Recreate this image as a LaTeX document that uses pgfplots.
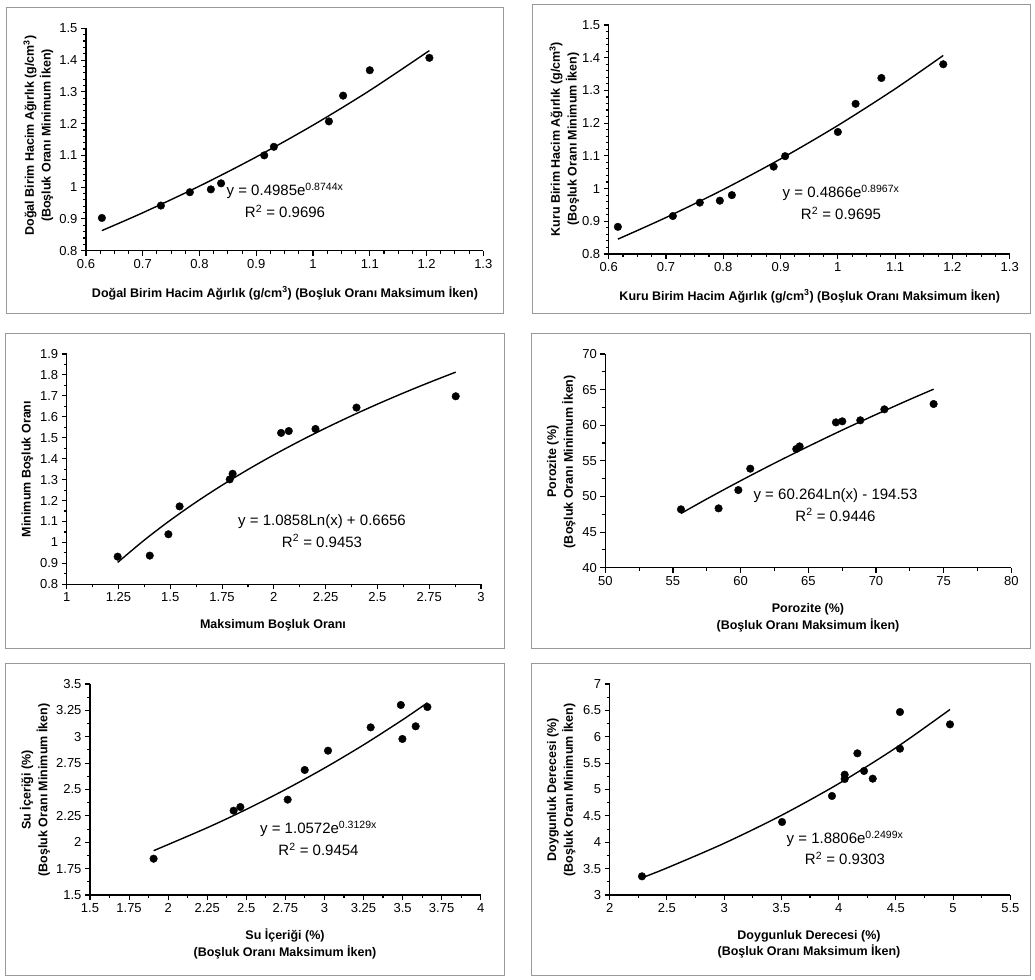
\documentclass[border=0pt]{standalone}
\usepackage{fontspec}
\setmainfont{Liberation Sans}
\usepackage{pgfplots}
\pgfplotsset{compat=1.18}

\pgfplotsset{
  exc/.style={
    scale only axis,
    anchor=south west,
    axis lines*=left,
    axis line style={black, line width=1.3pt, -},
    tick align=outside,
    major tick length=5pt,
    minor tick length=3pt,
    major tick style={black, line width=1.1pt},
    minor tick style={black, line width=1.1pt},
    scaled ticks=false,
    tick label style={font=\fontsize{13}{15}\selectfont, /pgf/number format/fixed, /pgf/number format/assume math mode=true},
    clip=false,
  },
  dots/.style={only marks, mark=*, mark size=3.8pt, black},
  trend/.style={no marks, black, line width=1.4pt, smooth},
}
\newcommand{\lab}{\fontsize{12.5}{16.7}\selectfont\bfseries}
\newcommand{\eq}{\fontsize{15}{21.5}\selectfont}

\begin{document}
\begin{tikzpicture}
\useasboundingbox (0pt,0pt) rectangle (1035pt,979pt);
\fill[white] (0pt,0pt) rectangle (1035pt,979pt);
% panel frames
\begin{scope}[draw=black!40, line width=0.9pt]
\draw (6pt,666pt) rectangle (503pt,972pt);
\draw (532pt,666pt) rectangle (1030pt,975pt);
\draw (5pt,331pt) rectangle (504pt,646pt);
\draw (531pt,331pt) rectangle (1030pt,646pt);
\draw (5pt,4pt) rectangle (504pt,316pt);
\draw (531pt,4pt) rectangle (1030pt,316pt);
\end{scope}

% ---------- Panel 1 ----------
\begin{axis}[exc, at={(86pt,728.3pt)}, width=397.3pt, height=222.4pt,
  xmin=0.6, xmax=1.3, ymin=0.8, ymax=1.5,
  xtick={0.6,0.7,0.8,0.9,1,1.1,1.2,1.3},
  ytick={0.8,0.9,1,1.1,1.2,1.3,1.4,1.5},
  minor x tick num=3, minor y tick num=4]
\addplot[trend] coordinates {(0.628,0.8633) (0.7,0.9194) (0.8,1.0034) (0.9,1.0951) (1.0,1.1951) (1.1,1.3043) (1.205,1.4298)};
\addplot[dots] coordinates {(0.628,0.903) (0.732,0.942) (0.783,0.984) (0.820,0.993) (0.838,1.012) (0.914,1.100) (0.931,1.127) (1.028,1.207) (1.053,1.288) (1.100,1.368) (1.205,1.407)};
\end{axis}
\node[align=center, font=\eq] at (285pt,778.5pt) {y = 0.4985e\textsuperscript{0.8744x}\\R\textsuperscript{2} = 0.9696};
\node[font=\lab] at (285pt,685.7pt) {Doğal Birim Hacim Ağırlık (g/cm\textsuperscript{3}) (Boşluk Oranı Maksimum İken)};
\node[font=\lab, align=center, rotate=90] at (38.3pt,843.5pt) {Doğal Birim Hacim Ağırlık (g/cm\textsuperscript{3})\\(Boşluk Oranı Minimum İken)};

% ---------- Panel 2 ----------
\begin{axis}[exc, at={(608.7pt,725pt)}, width=401pt, height=229pt,
  xmin=0.6, xmax=1.3, ymin=0.8, ymax=1.5,
  xtick={0.6,0.7,0.8,0.9,1,1.1,1.2,1.3},
  ytick={0.8,0.9,1,1.1,1.2,1.3,1.4,1.5},
  minor x tick num=3, minor y tick num=4]
\addplot[trend] coordinates {(0.616,0.8454) (0.7,0.9115) (0.8,0.9970) (0.9,1.0906) (1.0,1.1929) (1.1,1.3048) (1.184,1.4069)};
\addplot[dots] coordinates {(0.616,0.883) (0.712,0.916) (0.759,0.957) (0.794,0.963) (0.815,0.980) (0.888,1.067) (0.908,1.099) (1.000,1.173) (1.031,1.259) (1.076,1.338) (1.184,1.380)};
\end{axis}
\node[align=center, font=\eq] at (841pt,776.5pt) {y = 0.4866e\textsuperscript{0.8967x}\\R\textsuperscript{2} = 0.9695};
\node[font=\lab] at (809.7pt,683pt) {Kuru Birim Hacim Ağırlık (g/cm\textsuperscript{3}) (Boşluk Oranı Maksimum İken)};
\node[font=\lab, align=center, rotate=90] at (564.3pt,840pt) {Kuru Birim Hacim Ağırlık (g/cm\textsuperscript{3})\\(Boşluk Oranı Minimum İken)};

% ---------- Panel 3 ----------
\begin{axis}[exc, at={(66.7pt,394.7pt)}, width=414.3pt, height=230.3pt,
  xmin=1, xmax=3, ymin=0.8, ymax=1.9,
  xtick={1,1.25,1.5,1.75,2,2.25,2.5,2.75,3},
  ytick={0.8,0.9,1,1.1,1.2,1.3,1.4,1.5,1.6,1.7,1.8,1.9},
  minor x tick num=1, minor y tick num=1]
\addplot[trend] coordinates {(1.246,0.9044) (1.375,1.0114) (1.5,1.1059) (1.625,1.1928) (1.75,1.2732) (1.875,1.3481) (2.0,1.4182) (2.125,1.4840) (2.25,1.5461) (2.375,1.6048) (2.5,1.6605) (2.625,1.7135) (2.75,1.7640) (2.878,1.8134)};
\addplot[dots] coordinates {(1.246,0.932) (1.401,0.937) (1.491,1.039) (1.545,1.172) (1.787,1.301) (1.801,1.328) (2.035,1.523) (2.072,1.532) (2.201,1.542) (2.399,1.644) (2.878,1.698)};
\end{axis}
\node[align=center, font=\eq] at (322pt,448pt) {y = 1.0858Ln(x) + 0.6656\\R\textsuperscript{2} = 0.9453};
\node[font=\lab] at (273pt,354pt) {Maksimum Boşluk Oranı};
\node[font=\lab, rotate=90] at (27.3pt,510pt) {Minimum Boşluk Oranı};

% ---------- Panel 4 ----------
\begin{axis}[exc, at={(605.3pt,411.3pt)}, width=406pt, height=213.7pt,
  xmin=50, xmax=80, ymin=40, ymax=70,
  xtick={50,55,60,65,70,75,80},
  ytick={40,45,50,55,60,65,70},
  minor x tick num=1, minor y tick num=1]
\addplot[trend] coordinates {(55.59,47.61) (57.5,49.65) (60,52.21) (62.5,54.67) (65,57.03) (67.5,59.31) (70,61.50) (72.5,63.62) (74.26,65.06)};
\addplot[dots] coordinates {(55.59,48.19) (58.37,48.33) (59.83,50.90) (60.71,53.90) (64.11,56.66) (64.36,57.03) (67.04,60.40) (67.51,60.55) (68.84,60.69) (70.62,62.23) (74.26,62.98)};
\end{axis}
\node[align=center, font=\eq] at (835.5pt,474pt) {y = 60.264Ln(x) - 194.53\\R\textsuperscript{2} = 0.9446};
\node[font=\lab, align=center] at (808pt,361.3pt) {Porozite (\%)\\(Boşluk Oranı Maksimum İken)};
\node[font=\lab, align=center, rotate=90] at (561.3pt,517.3pt) {Porozite (\%)\\(Boşluk Oranı Minimum İken)};

% ---------- Panel 5 ----------
\begin{axis}[exc, at={(90pt,84pt)}, width=390.7pt, height=211pt,
  xmin=1.5, xmax=4, ymin=1.5, ymax=3.5,
  xtick={1.5,1.75,2,2.25,2.5,2.75,3,3.25,3.5,3.75,4},
  ytick={1.5,1.75,2,2.25,2.5,2.75,3,3.25,3.5},
  minor x tick num=1, minor y tick num=1]
\addplot[trend] coordinates {(1.907,1.9200) (2.25,2.1375) (2.5,2.3114) (2.75,2.4995) (3.0,2.7029) (3.25,2.9228) (3.5,3.1606) (3.659,3.3219)};
\addplot[dots] coordinates {(1.907,1.844) (2.419,2.299) (2.462,2.334) (2.765,2.404) (2.874,2.685) (3.023,2.868) (3.296,3.089) (3.489,3.301) (3.499,2.979) (3.584,3.099) (3.659,3.282)};
\end{axis}
\node[align=center, font=\eq] at (318.5pt,140.7pt) {y = 1.0572e\textsuperscript{0.3129x}\\R\textsuperscript{2} = 0.9454};
\node[font=\lab, align=center] at (285pt,34.8pt) {Su İçeriği (\%)\\(Boşluk Oranı Maksimum İken)};
\node[font=\lab, align=center, rotate=90] at (35pt,189pt) {Su İçeriği (\%)\\(Boşluk Oranı Minimum İken)};

% ---------- Panel 6 ----------
\begin{axis}[exc, at={(609.7pt,84pt)}, width=400.6pt, height=211pt,
  xmin=2, xmax=5.5, ymin=3, ymax=7,
  xtick={2,2.5,3,3.5,4,4.5,5,5.5},
  ytick={3,3.5,4,4.5,5,5.5,6,6.5,7},
  minor x tick num=1, minor y tick num=1]
\addplot[trend] coordinates {(2.282,3.3263) (2.5,3.5125) (3.0,3.9800) (3.5,4.5097) (4.0,5.1099) (4.5,5.7900) (4.973,6.5165)};
\addplot[dots] coordinates {(2.282,3.354) (3.506,4.384) (3.942,4.877) (4.053,5.281) (4.053,5.199) (4.164,5.686) (4.222,5.351) (4.298,5.205) (4.536,6.469) (4.536,5.774) (4.973,6.235)};
\end{axis}
\node[align=center, font=\eq] at (845pt,131pt) {y = 1.8806e\textsuperscript{0.2499x}\\R\textsuperscript{2} = 0.9303};
\node[font=\lab, align=center] at (809pt,34.8pt) {Doygunluk Derecesi (\%)\\(Boşluk Oranı Maksimum İken)};
\node[font=\lab, align=center, rotate=90] at (561.3pt,189pt) {Doygunluk Derecesi (\%)\\(Boşluk Oranı Minimum İken)};
\end{tikzpicture}
\end{document}
